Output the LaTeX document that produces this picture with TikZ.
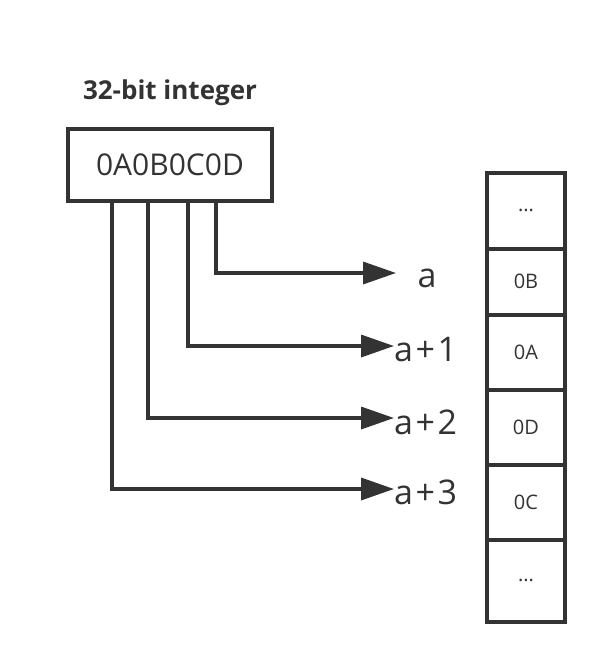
\documentclass[tikz,border=0pt]{standalone}
\usepackage{fontspec}
\setmainfont{Open Sans}
\usetikzlibrary{arrows.meta}
\definecolor{ink}{HTML}{333333}
\tikzset{
  ln/.style={draw=ink, line width=3.5pt},
  arr/.style={draw=ink, line width=3.5pt, -{Triangle[length=33pt,width=22pt]}},
  cell/.style={draw=ink, line width=3.5pt, minimum width=78pt, inner sep=0pt, anchor=north, font=\fontsize{20}{24}\selectfont, text=ink},
  lbl/.style={font=\fontsize{34}{40}\selectfont, text=ink, inner sep=0pt}
}
\newcommand{\pl}{\hspace{2.5pt}+\hspace{2.5pt}}
\begin{document}
\begin{tikzpicture}[x=1pt,y=-1pt]
\useasboundingbox (0,0) rectangle (614,664);
\node[font=\bfseries\fontsize{26}{30}\selectfont, text=ink] (title) at (170,93) {32-bit integer};
\node[ln, minimum width=204pt, minimum height=72pt, inner sep=0pt, font=\fontsize{30}{36}\selectfont, text=ink] (int) at (170,165) {0A0B0C0D};
% memory cells
\node[cell, minimum height=76pt] (c0) at (526,171) {...};
\node[cell, minimum height=66pt] (c1) at (526,247) {0B};
\node[cell, minimum height=75pt] (c2) at (526,313) {0A};
\node[cell, minimum height=75pt] (c3) at (526,388) {0D};
\node[cell, minimum height=75pt] (c4) at (526,463) {0C};
\node[cell, minimum height=82pt] (c5) at (526,538) {...};
% labels
\node[lbl] (l0) at (427,278) {a};
\node[lbl, anchor=west] (l1) at (394,350) {a\pl 1};
\node[lbl, anchor=west] (l2) at (394,422) {a\pl 2};
\node[lbl, anchor=west] (l3) at (394,492) {a\pl 3};
% connector points
\coordinate (s0) at (216,201);
\coordinate (s1) at (188,201);
\coordinate (s2) at (148,201);
\coordinate (s3) at (112,201);
\coordinate (t0) at (396,273);
\coordinate (t1) at (394,346);
\coordinate (t2) at (394,418);
\coordinate (t3) at (394,489);
\draw[arr] (s0) |- (t0);
\draw[arr] (s1) |- (t1);
\draw[arr] (s2) |- (t2);
\draw[arr] (s3) |- (t3);
\end{tikzpicture}
\end{document}
